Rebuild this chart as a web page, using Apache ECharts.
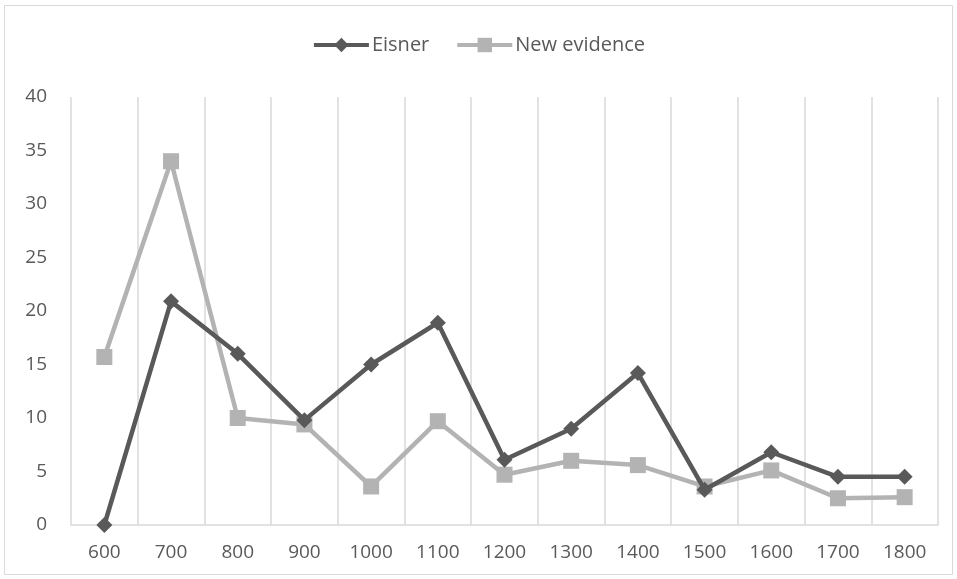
<!DOCTYPE html>
<html><head><meta charset="utf-8">
<script src="https://cdn.jsdelivr.net/npm/echarts@6/dist/echarts.min.js"></script>
<style>html,body{margin:0;padding:0;background:#fff}#c{width:957px;height:579px}</style>
</head><body><div id="c"></div>
<script>
const categories = ['600','700','800','900','1000','1100','1200','1300','1400','1500','1600','1700','1800'];
const eisner = [0, 20.9, 16, 9.8, 15, 18.9, 6.1, 9.0, 14.2, 3.3, 6.8, 4.5, 4.5];
const newEvidence = [15.7, 34.0, 10.0, 9.4, 3.6, 9.7, 4.7, 6.0, 5.6, 3.6, 5.1, 2.5, 2.6];
const yTicks = {min: 0, max: 40, interval: 5};

const chart = echarts.init(document.getElementById('c'));
const font = 'Open Sans';
chart.setOption({
  animation: false,
  backgroundColor: '#fff',
  graphic: [{type:'rect', shape:{x:4.5,y:5.5,width:948,height:569}, style:{fill:'none', stroke:'#d9d9d9', lineWidth:1}, silent:true}],
  legend: {
    top: 30, left: 'center', itemWidth: 55, itemHeight: 18, itemGap: 26,
    lineStyle: {width: 4},
    textStyle: {fontFamily: font, fontSize: 20, color: '#595959', padding: [0,0,0,-2]},
    data: ['Eisner', 'New evidence']
  },
  grid: {left: 71, right: 19, top: 97, bottom: 54, containLabel: false},
  xAxis: {
    type: 'category', data: categories, boundaryGap: true,
    axisLine: {show: true, lineStyle: {color: '#d9d9d9', width: 1.5}},
    axisTick: {show: false},
    axisLabel: {fontFamily: font, fontSize: 19, color: '#595959', margin: 18},
    splitLine: {show: true, lineStyle: {color: '#d9d9d9', width: 1.5}}
  },
  yAxis: {
    type: 'value', min: yTicks.min, max: yTicks.max, interval: yTicks.interval,
    axisLine: {show: false}, axisTick: {show: false},
    axisLabel: {fontFamily: font, fontSize: 19, color: '#595959', margin: 24},
    splitLine: {show: false}
  },
  series: [
    {name: 'Eisner', type: 'line', data: eisner, symbol: 'diamond', symbolSize: 16,
     itemStyle: {color: '#595959'}, lineStyle: {color: '#595959', width: 4.5}, z: 3},
    {name: 'New evidence', type: 'line', data: newEvidence, symbol: 'rect', symbolSize: 16,
     itemStyle: {color: '#b3b3b3'}, lineStyle: {color: '#b3b3b3', width: 4.5}, z: 2}
  ]
});
</script></body></html>
